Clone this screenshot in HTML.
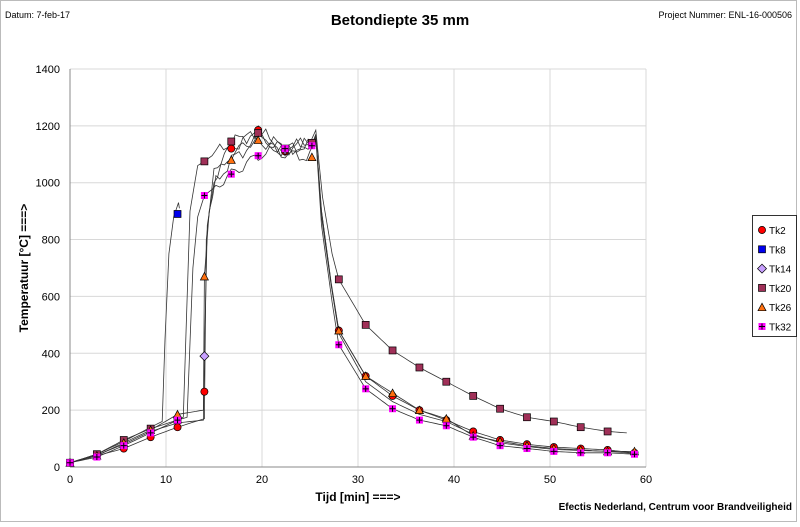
<!DOCTYPE html>
<html><head><meta charset="utf-8"><style>
body{margin:0;background:#fff;width:800px;height:522px;overflow:hidden;font-family:"Liberation Sans",sans-serif}
</style></head><body>
<svg id="s" width="800" height="522" xmlns="http://www.w3.org/2000/svg" font-family="Liberation Sans, sans-serif">
<rect x="0.5" y="0.5" width="796" height="521" fill="#fff" stroke="#bbb"/>
<text x="5" y="18" font-size="9">Datum: 7-feb-17</text>
<text x="400" y="25" font-size="15" font-weight="bold" text-anchor="middle">Betondiepte 35 mm</text>
<text x="792" y="18" font-size="9" text-anchor="end">Project Nummer: ENL-16-000506</text>
<text x="792" y="510" font-size="10" font-weight="bold" text-anchor="end">Efectis Nederland, Centrum voor Brandveiligheid</text>
<text x="358" y="501" font-size="12" font-weight="bold" text-anchor="middle">Tijd [min] ===&gt;</text>
<text transform="translate(28,268) rotate(-90)" font-size="12" font-weight="bold" text-anchor="middle">Temperatuur [°C] ===&gt;</text>
<g id="g"></g>
<g id="d"></g>
<g id="lg"></g>
</svg>
<script>
const X=t=>70+9.6*t, Y=v=>467-0.2843*v;
const g=document.getElementById('g'),d=document.getElementById('d'),lg=document.getElementById('lg');
let h='';
for(let v=0;v<=1400;v+=200){h+=`<line x1="70" x2="646" y1="${Y(v)}" y2="${Y(v)}" stroke="#d8d8d8"/>`;
h+=`<text x="60" y="${Y(v)+4}" font-size="11" text-anchor="end">${v}</text>`;}
for(let t=0;t<=60;t+=10){h+=`<line y1="69" y2="467" x1="${X(t)}" x2="${X(t)}" stroke="#d8d8d8"/>`;
h+=`<text x="${X(t)}" y="483" font-size="11" text-anchor="middle">${t}</text>`;}
h+=`<line x1="70" x2="70" y1="69" y2="467" stroke="#888"/><line x1="70" x2="646" y1="467" y2="467" stroke="#888"/>`;
g.innerHTML=h;
const M=[0,2.8,5.6,8.4,11.2,14,16.8,19.6,22.4,25.2,28,30.8,33.6,36.4,39.2,42,44.8,47.6,50.4,53.2,56,58.8];
function noisy(pts,amp){let o=[];for(let i=0;i<pts.length-1;i++){const [t0,v0]=pts[i],[t1,v1]=pts[i+1];const n=Math.max(1,Math.round((t1-t0)/0.4));for(let k=0;k<n;k++){const t=t0+(t1-t0)*k/n;let v=v0+(v1-v0)*k/n;if(t>15&&t<25.3)v+=(Math.sin(t*3.1+amp)*18+Math.sin(t*7.7+amp*2)*8);o.push([t,v]);}}o.push(pts[pts.length-1]);return o;}
function line(pts,a){return `<polyline fill="none" stroke="#333" stroke-width="0.8" points="${noisy(pts,a).map(p=>X(p[0]).toFixed(1)+','+Y(p[1]).toFixed(1)).join(' ')}"/>`;}
const S={
Tk2:{m:[15,40,65,105,140,265,1120,1185,1110,1140,480,320,250,200,165,125,95,80,70,65,60,50],
 p:[[0,15],[2.8,40],[5.6,65],[8.4,105],[11.2,140],[14,170],[14.2,800],[15,1050],[16.8,1120],[19.6,1185],[22.4,1110],[25.2,1140],[25.6,1160],[26.2,900],[27.2,650],[28,480],[30.8,320],[33.6,250],[36.4,200],[39.2,165],[42,125],[44.8,95],[47.6,80],[50.4,70],[53.2,65],[56,60],[58.8,50]]},
Tk8:{m:[null,null,null,null,890],p:[[0,15],[2.8,45],[5.6,90],[8.4,140],[9.6,160],[9.9,450],[10.3,750],[10.8,880],[11.3,930],[11.4,910]]},
Tk14:{m:[null,null,null,null,null,390,null,null,1115],p:[[0,15],[2.8,42],[5.6,80],[8.4,125],[11.2,155],[13.9,165],[14,390],[14.3,850],[15,1000],[16.8,1100],[19.6,1160],[22.4,1115],[25.2,1150],[25.6,1170],[26.2,900],[27.3,620],[28,470],[30.8,300],[33.6,230],[36.4,185],[39.2,160],[42,115],[44.8,85],[47.6,72],[50.4,62],[53.2,58],[56,55],[58.8,48]]},
Tk20:{m:[15,45,95,135,165,1075,1145,1175,1120,1140,660,500,410,350,300,250,205,175,160,140,125],
 p:[[0,15],[2.8,45],[5.6,95],[8.4,135],[11.2,165],[11.8,175],[12.5,900],[13.3,1060],[14,1075],[16.8,1145],[19.6,1175],[22.4,1120],[25.2,1140],[25.6,1185],[26.3,950],[27.3,750],[28,660],[30.8,500],[33.6,410],[36.4,350],[39.2,300],[42,250],[44.8,205],[47.6,175],[50.4,160],[53.2,140],[56,125],[58,120]]},
Tk26:{m:[15,40,85,130,185,670,1080,1150,null,1090,480,320,260,200,170,110,90,75,65,60,55,55],
 p:[[0,15],[2.8,40],[5.6,85],[8.4,130],[11.2,185],[13.9,200],[14,670],[14.5,900],[15.2,1000],[16.8,1080],[19.6,1150],[22.4,1100],[25,1090],[25.6,1170],[26.2,880],[27.2,640],[28,480],[30.8,320],[33.6,260],[36.4,200],[39.2,170],[42,110],[44.8,90],[47.6,75],[50.4,65],[53.2,60],[56,55],[58.8,55]]},
Tk32:{m:[15,35,75,120,165,955,1030,1095,1120,1130,430,275,205,165,145,105,75,65,55,50,50,45],
 p:[[0,15],[2.8,35],[5.6,75],[8.4,120],[11.2,165],[12.2,175],[12.8,700],[13.3,880],[14,955],[16.8,1030],[19.6,1095],[22.4,1120],[25.2,1130],[25.6,1160],[26.2,850],[27.3,580],[28,430],[30.8,275],[33.6,205],[36.4,165],[39.2,145],[42,105],[44.8,75],[47.6,65],[50.4,55],[53.2,50],[56,50],[58.8,45]]}
};
function mk(n,x,y){if(n=='Tk2')return `<circle cx="${x}" cy="${y}" r="3.6" fill="#f00" stroke="#000" stroke-width="0.7"/>`;
if(n=='Tk8')return `<rect x="${x-3.5}" y="${y-3.5}" width="7" height="7" fill="#0000ee" stroke="#000" stroke-width="0.7"/>`;
if(n=='Tk14')return `<polygon points="${x},${y-4.5} ${x+4.5},${y} ${x},${y+4.5} ${x-4.5},${y}" fill="#c8a0ff" stroke="#000" stroke-width="0.7"/>`;
if(n=='Tk20')return `<rect x="${x-3.5}" y="${y-3.5}" width="7" height="7" fill="#a03058" stroke="#000" stroke-width="0.7"/>`;
if(n=='Tk26')return `<polygon points="${x},${y-4} ${x+4},${y+3.5} ${x-4},${y+3.5}" fill="#ff7010" stroke="#000" stroke-width="0.7"/>`;
return `<rect x="${x-3.5}" y="${y-3.5}" width="7" height="7" fill="#ff00ff"/><path d="M${x-3} ${y}H${x+3}M${x} ${y-3}V${y+3}" stroke="#000" stroke-width="1"/>`;}
let L='',K='',a=1;
for(const n in S){L+=line(S[n].p,a++);S[n].m.forEach((v,i)=>{if(v!=null)K+=mk(n,X(M[i]),Y(v));});}
d.innerHTML=L+K;
let lh=`<rect x="752.5" y="215.5" width="44" height="121" fill="#fff" stroke="#000" stroke-width="0.8"/>`;
['Tk2','Tk8','Tk14','Tk20','Tk26','Tk32'].forEach((n,i)=>{const y=230+i*19.3;lh+=mk(n,762,y)+`<text x="769" y="${y+4}" font-size="10">${n}</text>`;});
lg.innerHTML=lh;
</script>
</body></html>
